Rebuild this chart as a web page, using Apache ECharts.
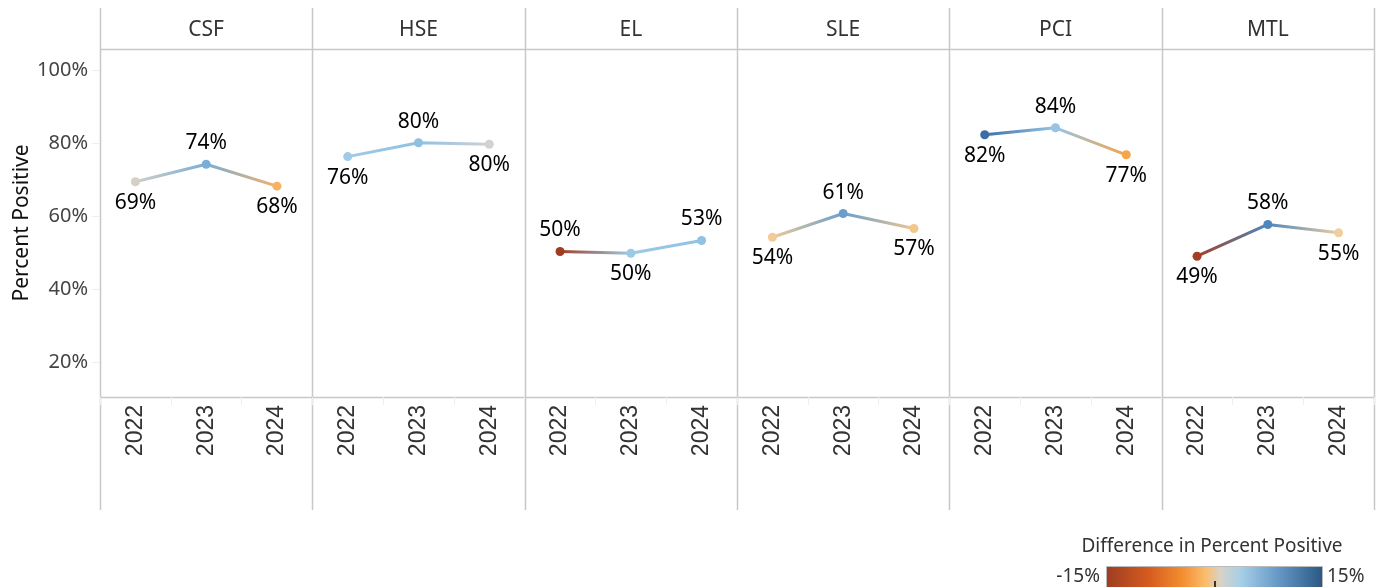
<!DOCTYPE html>
<html>
<head>
<meta charset="utf-8">
<title>Percent Positive by Area</title>
<script src="https://cdn.jsdelivr.net/npm/echarts@6/dist/echarts.min.js"></script>
<style>
  html, body { margin: 0; padding: 0; background: #fff; }
  #chart { width: 1378px; height: 587px; }
</style>
</head>
<body>
<div id="chart"></div>
<script>
// panels and years
const panels = ['CSF', 'HSE', 'EL', 'SLE', 'PCI', 'MTL']
const years = ['2022', '2023', '2024']
const yTicks = [20, 40, 60, 80, 100]

// percent positive per panel (2022, 2023, 2024)
const csf = [69.4, 74.2, 68.2]
const hse = [76.3, 80.1, 79.7]
const el = [50.3, 49.8, 53.3]
const sle = [54.2, 60.7, 56.6]
const pci = [82.3, 84.2, 76.8]
const mtl = [49.0, 57.7, 55.4]
const values = [csf, hse, el, sle, pci, mtl]

// colour of each point (difference in percent positive, orange-blue diverging)
const pointColors = [
  ['#d4d0c6', '#78aed8', '#f8b264'],
  ['#9fcae8', '#8fc0e2', '#d3d2d0'],
  ['#9e3d22', '#9ccae6', '#90c2e3'],
  ['#f2cb96', '#6a9fcd', '#f3c68c'],
  ['#3b6ea5', '#95c4e4', '#f6a548'],
  ['#a33f22', '#4f86bd', '#efcf9f']
]
const labelPos = [
  ['bottom', 'top', 'bottom'],
  ['bottom', 'top', 'bottom'],
  ['top', 'bottom', 'top'],
  ['bottom', 'top', 'bottom'],
  ['bottom', 'top', 'bottom'],
  ['bottom', 'top', 'bottom']
]

const panelLeft = 100
const panelRight = 1374
const panelW = (panelRight - panelLeft) / panels.length
const plotTop = 49
const plotBottom = 397
const lineTop = 8
const lineBottom = 510
const gridColor = '#c8c8c8'
const font = '"Noto Sans", sans-serif'

const chart = echarts.init(document.getElementById('chart'))

const grid = []
const xAxis = []
const yAxis = []
const series = []
const headers = []

panels.forEach((name, i) => {
  const left = panelLeft + i * panelW
  grid.push({ left: left, top: plotTop, width: panelW, height: plotBottom - plotTop })
  xAxis.push({
    type: 'category',
    gridIndex: i,
    data: years,
    boundaryGap: true,
    axisLine: { show: false },
    axisTick: { show: true, length: 8, lineStyle: { color: '#eeeeee' } },
    axisLabel: { rotate: 90, margin: 8, fontSize: 23, color: '#333', fontFamily: 'Liberation Sans, Arial, sans-serif' }
  })
  yAxis.push({
    type: 'value',
    gridIndex: i,
    min: 10.4,
    max: 105.8,
    splitLine: { show: false },
    axisLine: { show: false },
    axisTick: { show: i === 0, customValues: yTicks, length: 8, lineStyle: { color: '#eeeeee' } },
    axisLabel: {
      show: i === 0,
      customValues: yTicks,
      margin: 12,
      fontSize: 20,
      color: '#444',
      fontFamily: font,
      formatter: v => v + '%'
    },
    name: i === 0 ? 'Percent Positive' : '',
    nameLocation: 'middle',
    nameGap: 67,
    nameRotate: 90,
    nameTextStyle: { fontSize: 21, color: '#111', fontFamily: font }
  })
  const c = pointColors[i]
  series.push({
    type: 'line',
    xAxisIndex: i,
    yAxisIndex: i,
    data: values[i].map((v, j) => ({
      value: v,
      itemStyle: { color: c[j] },
      label: { position: labelPos[i][j] }
    })),
    symbol: 'circle',
    symbolSize: 9,
    lineStyle: {
      width: 3,
      color: new echarts.graphic.LinearGradient(0, 0, 1, 0, [
        { offset: 0, color: c[0] },
        { offset: 0.5, color: c[1] },
        { offset: 1, color: c[2] }
      ])
    },
    label: {
      show: true,
      distance: 6,
      fontSize: 21,
      color: '#000',
      fontFamily: font,
      formatter: p => Math.round(p.value) + '%'
    },
    emphasis: { disabled: true },
    animation: false
  })
  headers.push({
    type: 'text',
    x: left + panelW / 2,
    y: 30,
    style: {
      text: name,
      fill: '#333',
      fontSize: 21,
      fontFamily: font,
      align: 'center',
      verticalAlign: 'middle'
    }
  })
})

// panel frame lines
const frame = []
for (let i = 0; i <= panels.length; i++) {
  const x = Math.round(panelLeft + i * panelW) + 0.5
  frame.push({ type: 'line', shape: { x1: x, y1: lineTop, x2: x, y2: lineBottom }, style: { stroke: gridColor, lineWidth: 1.5 } })
}
frame.push({ type: 'line', shape: { x1: panelLeft, y1: plotTop + 0.5, x2: panelRight, y2: plotTop + 0.5 }, style: { stroke: gridColor, lineWidth: 1.5 } })
frame.push({ type: 'line', shape: { x1: panelLeft, y1: plotBottom + 0.5, x2: panelRight, y2: plotBottom + 0.5 }, style: { stroke: gridColor, lineWidth: 1.5 } })

// colour legend
const legend = [
  {
    type: 'text', x: 1212, y: 547,
    style: { text: 'Difference in Percent Positive', fill: '#333', fontSize: 19, fontFamily: font, align: 'center', verticalAlign: 'middle' }
  },
  {
    type: 'rect',
    shape: { x: 1106.5, y: 566.5, width: 216, height: 30 },
    style: {
      stroke: '#bbb',
      lineWidth: 1,
      fill: new echarts.graphic.LinearGradient(0, 0, 1, 0, [
        { offset: 0, color: '#9e3d22' },
        { offset: 0.2, color: '#d65c1f' },
        { offset: 0.35, color: '#f38d2f' },
        { offset: 0.46, color: '#fbbd6e' },
        { offset: 0.53, color: '#d6d3c9' },
        { offset: 0.62, color: '#a7cfe8' },
        { offset: 0.78, color: '#6a9dca' },
        { offset: 1, color: '#2a5783' }
      ])
    }
  },
  { type: 'line', shape: { x1: 1215, y1: 581, x2: 1215, y2: 590 }, style: { stroke: '#000', lineWidth: 1.5 } },
  {
    type: 'text', x: 1100, y: 577,
    style: { text: '-15%', fill: '#333', fontSize: 19, fontFamily: font, align: 'right', verticalAlign: 'middle' }
  },
  {
    type: 'text', x: 1327, y: 577,
    style: { text: '15%', fill: '#333', fontSize: 19, fontFamily: font, align: 'left', verticalAlign: 'middle' }
  }
]

chart.setOption({
  animation: false,
  grid: grid,
  xAxis: xAxis,
  yAxis: yAxis,
  series: series,
  graphic: frame.concat(headers, legend)
})
</script>
</body>
</html>
